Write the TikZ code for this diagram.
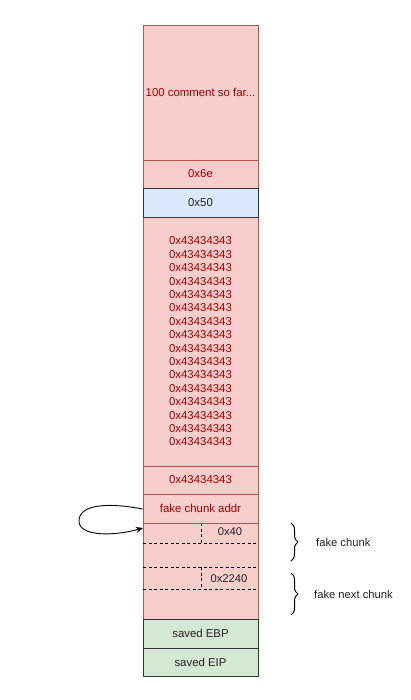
\documentclass[tikz,border=0pt]{standalone}
\usepackage{fontspec}
\setmainfont{Liberation Sans}
\usetikzlibrary{arrows.meta,decorations.pathreplacing}
\definecolor{redfill}{HTML}{F8CECC}
\definecolor{redstroke}{HTML}{B85450}
\definecolor{redtext}{HTML}{A00000}
\definecolor{bluefill}{HTML}{DAE8FC}
\definecolor{greenfill}{HTML}{D5E8D4}
\definecolor{darkstroke}{HTML}{333333}
\definecolor{blacktext}{HTML}{222222}
\tikzset{
  cell/.style={draw=redstroke, fill=redfill, text=redtext, line width=0.8pt,
    minimum width=115pt, inner sep=0pt, font=\fontsize{11.4}{13.4}\selectfont, align=center},
  bluecell/.style={cell, draw=darkstroke, fill=bluefill, text=blacktext},
  greencell/.style={cell, draw=darkstroke, fill=greenfill, text=blacktext},
  sep/.style={draw=black, line width=0.8pt, dash pattern=on 3pt off 2.5pt},
  lbl/.style={font=\fontsize{11.2}{13}\selectfont, text=blacktext, inner sep=0pt},
  brc/.style={decorate, decoration={brace, amplitude=7pt}, line width=1pt},
}
\begin{document}
\begin{tikzpicture}[x=1pt,y=-1pt]
\useasboundingbox (0,0) rectangle (410,700);
\fill[white] (0,0) rectangle (410,700);
% cells
\node[cell, minimum height=135pt] (c1) at (200.5,92.5) {100 comment so far...};
\node[cell, minimum height=28pt] (c2) at (200.5,174) {0x6e};
\node[cell, minimum height=249pt] (c4) at (200.5,341.5) {0x43434343\\0x43434343\\0x43434343\\0x43434343\\0x43434343\\0x43434343\\0x43434343\\0x43434343\\0x43434343\\0x43434343\\0x43434343\\0x43434343\\0x43434343\\0x43434343\\0x43434343\\0x43434343};
\node[cell, minimum height=28pt] (c5) at (200.5,480) {0x43434343};
\node[cell, minimum height=29pt] (c6) at (200.5,508.5) {fake chunk addr};
\node[cell, minimum height=96pt] (c7) at (200.5,571) {};
\node[bluecell, minimum height=29pt] (c3) at (200.5,202.5) {0x50};
\node[greencell, minimum height=29pt] (c8) at (200.5,633.5) {saved EBP};
\node[greencell, minimum height=28pt] (c9) at (200.5,662) {saved EIP};
% fake chunk internals
\draw[sep] (143,543) -- (258,543);
\draw[sep] (143,567) -- (258,567);
\draw[sep] (143,589) -- (258,589);
\draw[sep] (201.7,523) -- (201.7,543);
\draw[sep] (201.7,567) -- (201.7,589);
\node[lbl] (s40) at (230,532) {0x40};
\node[lbl] (s2240) at (229,578.5) {0x2240};
% self pointer arrow
\coordinate (fchunk) at (143,528);
\coordinate (loopleft) at (79,521);
\draw[line width=0.9pt, -{Stealth[length=7pt,width=6pt]}] (c6.west |- 0,509)
  .. controls (112,503) and (79,503) .. (loopleft)
  .. controls (79,537) and (115,536) .. (fchunk);
% braces
\draw[brc] (291,523) -- (291,561) coordinate[midway] (b1);
\draw[brc] (291,573) -- (291,615) coordinate[midway] (b2);
\node[lbl, anchor=west] (t1) at (316,542) {fake chunk};
\node[lbl, anchor=west] (t2) at (314,594) {fake next chunk};
\end{tikzpicture}
\end{document}
